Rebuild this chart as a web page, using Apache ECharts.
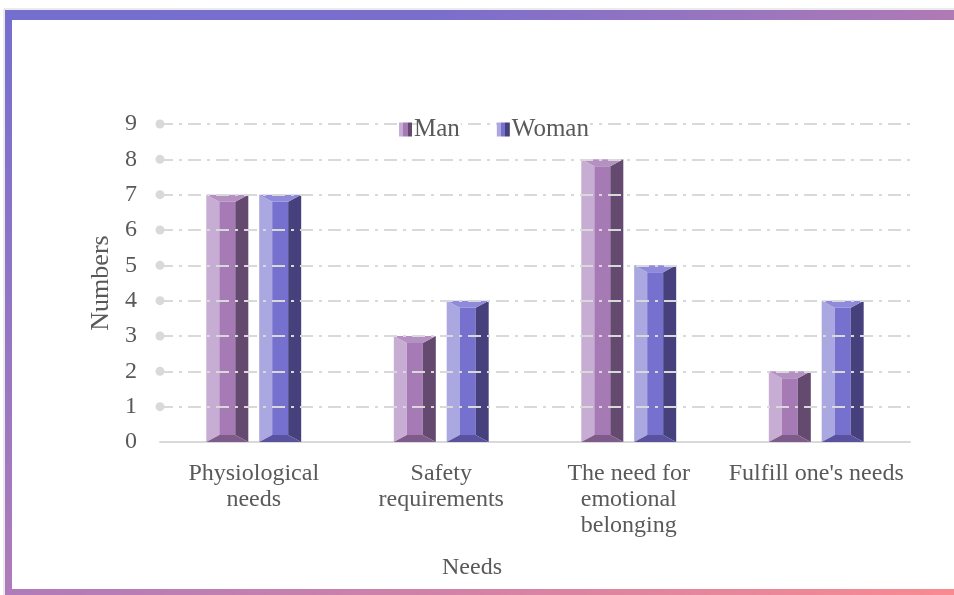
<!DOCTYPE html>
<html>
<head>
<meta charset="utf-8">
<script src="https://cdn.jsdelivr.net/npm/echarts@6/dist/echarts.min.js"></script>
<style>
  html, body { margin: 0; padding: 0; background: #fff; }
  #chart { width: 954px; height: 595px; }
</style>
</head>
<body>
<div id="chart"></div>
<script>
// 数据
const categories = ['Physiological\nneeds', 'Safety\nrequirements', 'The need for\nemotional\nbelonging', "Fulfill one's needs"];
const manValues = [7, 3, 8, 2];
const womanValues = [7, 4, 5, 4];
const gridValues = [1, 2, 3, 4, 5, 6, 7, 8, 9];

const FONT = '"Liberation Serif", "Times New Roman", serif';
const TEXT = '#595959';

// 每个系列的立体柱颜色：左面、中间、右面、顶斜面、底斜面
const palette = {
  Man: { left: '#C7ADD3', mid: '#A67BB5', right: '#644A6F', top: '#B590C2', bottom: '#7E5B8A' },
  Woman: { left: '#ABA7E1', mid: '#7670CF', right: '#46407D', top: '#8F8AD9', bottom: '#58529F' },
};

const stripe = (c) => new echarts.graphic.LinearGradient(0, 0, 1, 0, [
  { offset: 0, color: c.left }, { offset: 0.33, color: c.left },
  { offset: 0.33, color: c.mid }, { offset: 0.66, color: c.mid },
  { offset: 0.66, color: c.right }, { offset: 1, color: c.right },
]);

/**
 * 画带斜面的柱子
 */
const renderBar = (params, api) => {
  const c = palette[params.seriesName];
  const cat = api.value(0);
  const top = api.coord([cat, api.value(1)]);
  const base = api.coord([cat, 0]);
  const band = api.size([1, 0])[0];
  const w = band * 0.224;
  const off = (params.seriesName === 'Man' ? -1 : 1) * band * 0.141;
  const x0 = top[0] + off - w / 2;
  const x3 = x0 + w;
  const side = w * 0.31;
  const x1 = x0 + side;
  const x2 = x3 - side;
  const y0 = top[1];
  const yb = base[1];
  const h = Math.min(7, (yb - y0) / 2);
  const poly = (points, fill) => ({ type: 'polygon', shape: { points }, style: { fill } });
  return {
    type: 'group',
    children: [
      poly([[x0, y0], [x1, y0 + h], [x1, yb - h], [x0, yb]], c.left),
      poly([[x1, y0 + h], [x2, y0 + h], [x2, yb - h], [x1, yb - h]], c.mid),
      poly([[x3, y0], [x2, y0 + h], [x2, yb - h], [x3, yb]], c.right),
      poly([[x0, y0], [x3, y0], [x2, y0 + h], [x1, y0 + h]], c.top),
      poly([[x0, yb], [x1, yb - h], [x2, yb - h], [x3, yb]], c.bottom),
    ],
  };
};

const chart = echarts.init(document.getElementById('chart'));

// 外框渐变条
const frame = [
  { type: 'rect', shape: { x: 4, y: 9, width: 960, height: 600 }, style: { fill: 'none', stroke: '#d6d6d6', lineWidth: 1 } },
  {
    type: 'rect', shape: { x: 5, y: 10, width: 949, height: 10 },
    style: { fill: new echarts.graphic.LinearGradient(0, 0, 1, 0, [
      { offset: 0, color: '#746ECF' }, { offset: 0.45, color: '#7A6ECC' }, { offset: 1, color: '#B07AB5' }]) },
  },
  {
    type: 'rect', shape: { x: 5, y: 10, width: 7, height: 585 },
    style: { fill: new echarts.graphic.LinearGradient(0, 0, 0, 1, [
      { offset: 0, color: '#746ECF' }, { offset: 1, color: '#AF7BBA' }]) },
  },
  {
    type: 'rect', shape: { x: 5, y: 589, width: 949, height: 6 },
    style: { fill: new echarts.graphic.LinearGradient(0, 0, 1, 0, [
      { offset: 0, color: '#AF7BBA' }, { offset: 1, color: '#F88A91' }]) },
  },
];

chart.setOption({
  animation: false,
  textStyle: { fontFamily: FONT, color: TEXT },
  graphic: frame,
  grid: { left: 160, right: 44, top: 124, bottom: 153 },
  legend: {
    data: ['Man', 'Woman'],
    top: 110,
    left: 394,
    icon: 'rect',
    itemWidth: 13,
    itemHeight: 14,
    itemGap: 36,
    z: 10,
    textStyle: {
      fontFamily: FONT, fontSize: 25, color: TEXT,
      backgroundColor: '#fff', padding: [2, 1, 2, -3],
    },
  },
  xAxis: {
    type: 'category',
    data: categories,
    name: 'Needs',
    nameLocation: 'middle',
    nameGap: 114,
    nameTextStyle: { fontFamily: FONT, fontSize: 24, color: TEXT, padding: [0, 126, 0, 0] },
    axisLine: { lineStyle: { color: '#D9D9D9', width: 2 } },
    axisTick: { show: false },
    axisLabel: { fontFamily: FONT, fontSize: 24, color: TEXT, lineHeight: 26, margin: 19, interval: 0 },
  },
  yAxis: {
    type: 'value',
    min: 0,
    max: 9,
    interval: 1,
    name: 'Numbers',
    nameLocation: 'middle',
    nameGap: 36,
    nameTextStyle: { fontFamily: FONT, fontSize: 26, color: TEXT },
    axisLine: { show: false },
    axisTick: { show: false },
    splitLine: { show: false },
    axisLabel: { fontFamily: FONT, fontSize: 24, color: TEXT, margin: 23 },
  },
  series: [
    {
      name: 'Man',
      type: 'custom',
      renderItem: renderBar,
      itemStyle: { color: stripe(palette.Man) },
      encode: { x: 0, y: 1 },
      data: manValues.map((v, i) => [i, v]),
      z: 3,
    },
    {
      name: 'Woman',
      type: 'custom',
      renderItem: renderBar,
      itemStyle: { color: stripe(palette.Woman) },
      encode: { x: 0, y: 1 },
      data: womanValues.map((v, i) => [i, v]),
      z: 3,
    },
    {
      // 网格线（点划线，起点带圆点）
      type: 'line',
      data: [],
      silent: true,
      z: 1,
      markLine: {
        silent: true,
        symbol: ['circle', 'none'],
        symbolSize: 9,
        label: { show: false },
        lineStyle: { color: '#D9D9D9', width: 2, type: [13, 6, 3, 6] },
        data: gridValues.map((v) => ({ yAxis: v })),
      },
    },
  ],
});
</script>
</body>
</html>
